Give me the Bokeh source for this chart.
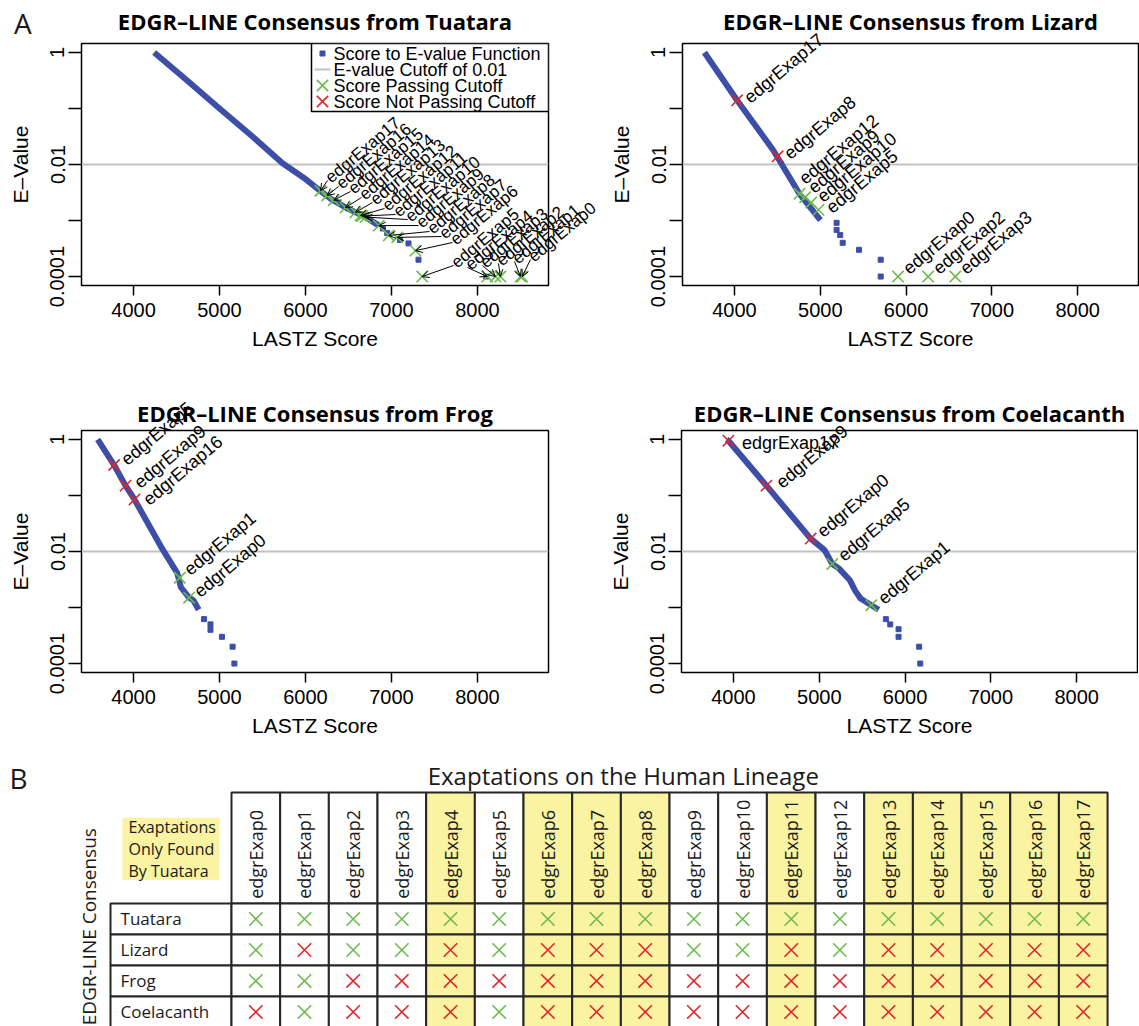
import math
from bokeh.plotting import figure
from bokeh.models import (Range1d, FixedTicker, CustomJSTickFormatter, ColumnDataSource,
                          HTMLLabelSet, Arrow, OpenHead, Div)
from bokeh.layouts import column, row
from bokeh.embed import file_html
from bokeh.resources import INLINE
from bokeh.core.properties import value

# ======================= DATA =======================
exaps = [f"edgrExap{i}" for i in range(18)]
species = ["Tuatara", "Lizard", "Frog", "Coelacanth"]
x_ticks = [4000, 5000, 6000, 7000, 8000]
y_ticks = [1e-4, 1e-3, 1e-2, 1e-1, 1.0]
cutoff = 0.01
legend_labels = ["Score to E-value Function", "E-value Cutoff of 0.01",
                 "Score Passing Cutoff", "Score Not Passing Cutoff"]

# Tuatara
tua_curve_score = [4240, 4600, 5000, 5400, 5733, 6000, 6150, 6300, 6500, 6700, 6850]
tua_curve_e = [1.0, 0.34, 0.10, 0.030, 0.0105, 0.0055, 0.0036, 0.0024, 0.0016, 0.00115, 0.00082]
tua_tail_score = [6900, 6950, 7100, 7198, 7314, 8102]
tua_tail_e = [0.00072, 0.00060, 0.00045, 0.00039, 0.00020, 0.0001]
tua_hit_id = [17, 16, 15, 14, 13, 12, 11, 10, 9, 8, 7, 6, 5, 4, 3, 2, 1, 0]
tua_hit_score = [6174, 6252, 6329, 6465, 6581, 6640, 6660, 6698, 6852, 6968, 7066, 7279,
                 7357, 8113, 8209, 8267, 8500, 8520]
tua_hit_e = [0.0034, 0.0028, 0.0023, 0.0017, 0.0014, 0.00123, 0.0012, 0.00115, 0.00081,
             0.00054, 0.0005, 0.00029, 0.0001, 0.0001, 0.0001, 0.0001, 0.0001, 0.0001]

# Lizard
liz_curve_score = [3650, 4030, 4452, 4757, 5002]
liz_curve_e = [1.0, 0.14, 0.018, 0.0030, 0.00102]
liz_tail_score = [5190, 5190, 5232, 5261, 5451, 5704, 5704]
liz_tail_e = [0.00091, 0.00068, 0.00055, 0.00040, 0.00030, 0.00020, 0.0001]
liz_hit_id = [17, 8, 12, 9, 10, 5, 0, 2, 3]
liz_hit_score = [4030, 4503, 4757, 4823, 4894, 4979, 5907, 6257, 6574]
liz_hit_e = [0.14, 0.014, 0.0030, 0.0026, 0.0021, 0.00155, 0.0001, 0.0001, 0.0001]

# Frog
frog_curve_score = [3583, 3774, 3907, 4011, 4322, 4509, 4551, 4646, 4696, 4758]
frog_curve_e = [1.0, 0.35, 0.15, 0.085, 0.012, 0.0041, 0.0023, 0.0015, 0.00135, 0.00091]
frog_tail_score = [4820, 4895, 4895, 5028, 5152, 5173]
frog_tail_e = [0.00062, 0.00050, 0.00040, 0.00030, 0.00020, 0.0001]
frog_hit_id = [5, 9, 16, 1, 0]
frog_hit_score = [3774, 3907, 4011, 4538, 4646]
frog_hit_e = [0.35, 0.15, 0.085, 0.0034, 0.0015]

# Coelacanth
coel_curve_score = [3920, 3941, 4384, 4899, 5059, 5152, 5228, 5354, 5418, 5481, 5607, 5692]
coel_curve_e = [1.0, 0.95, 0.15, 0.017, 0.0107, 0.0060, 0.0050, 0.0031, 0.0020, 0.00145,
                0.0011, 0.00091]
coel_tail_score = [5776, 5827, 5924, 5924, 6164, 6177]
coel_tail_e = [0.00062, 0.00050, 0.00041, 0.00030, 0.00020, 0.0001]
coel_hit_id = [17, 9, 0, 5, 1]
coel_hit_score = [3941, 4384, 4899, 5152, 5607]
coel_hit_e = [0.95, 0.15, 0.017, 0.0060, 0.0011]

# Table B: 1 = score passing cutoff, 0 = not passing
tuatara_pass = [1] * 18
lizard_pass = [1, 0, 1, 1, 0, 1, 0, 0, 0, 1, 1, 0, 1, 0, 0, 0, 0, 0]
frog_pass = [1, 1, 0, 0, 0, 0, 0, 0, 0, 0, 0, 0, 0, 0, 0, 0, 0, 0]
coel_pass = [0, 1, 0, 0, 0, 1, 0, 0, 0, 0, 0, 0, 0, 0, 0, 0, 0, 0]

# ======================= STYLE / LAYOUT =======================
BLUE = "#3d4ea8"
GREEN = "#6bbb4b"
RED = "#e0262b"
GRAY = "#c2c2c2"
YELLOW = "#f9f3a2"
LINE = "#262626"
TXT = "#1a1a1a"
RFONT = "Liberation Sans"
SFONT = "Open Sans"
FRAME_H = 242
LOG_LO, LOG_HI = -4.16, 0.16
Y_RANGE = (10 ** LOG_LO, 10 ** LOG_HI)
LEFT_X = (3395, 8826)
RIGHT_X = (3394, 8709)
LEFT_W, RIGHT_W = 467, 456
ANG = math.radians(40)

# Tuatara label anchors (page pixels of the top-left panel, frame at x=81, y=43)
tua_lab_px = [327, 338, 350, 361, 372, 384, 395, 407, 418, 429, 441, 452,
              453, 467, 482, 498, 514, 530]
tua_lab_py = [180, 186, 191, 197, 202, 208, 214, 219, 225, 231, 236, 242,
              265, 267, 265, 263, 261, 259]
# label offsets in pixels (right, up) for the other panels
liz_lab_dx = [10, 10, 3, 6, 9, 11, 8, 8, 8]
liz_lab_dy = [0, 0, 12, 7, 3, -1, 5, 5, 5]
frog_lab_dx = [10, 12, 12, 8, 8]
frog_lab_dy = [3, 0, -3, 5, 3]
coel_lab_dx = [14, 13, 10, 9, 10]
coel_lab_dy = [-3, 0, 4, 5, 4]


def px_x(px, xr, fw):
    """frame-relative pixel -> data x"""
    return xr[0] + px / fw * (xr[1] - xr[0])


def px_y(py):
    """pixels below frame top -> data y (log axis)"""
    return 10 ** (LOG_HI - py / FRAME_H * (LOG_HI - LOG_LO))


def base_panel(title, xr, frame_w, bl, br, bt, bb, title_standoff, valign):
    p = figure(frame_width=frame_w, frame_height=FRAME_H,
               x_range=Range1d(*xr), y_range=Range1d(*Y_RANGE), y_axis_type="log",
               min_border_left=bl, min_border_right=br, min_border_top=bt,
               min_border_bottom=bb, output_backend="svg", toolbar_location=None,
               background_fill_color="white", border_fill_color="white")
    p.title.text = title
    p.title.align = "center"
    p.title.vertical_align = valign
    p.title.text_font = SFONT
    p.title.text_font_style = "bold"
    p.title.text_font_size = "22px"
    p.title.text_color = "black"
    p.title.standoff = title_standoff
    p.grid.visible = False
    p.outline_line_color = "black"
    p.outline_line_width = 1.5
    p.outline_line_alpha = 1
    for ax in (p.xaxis[0], p.yaxis[0]):
        ax.axis_line_color = None
        ax.major_tick_in = 0
        ax.minor_tick_line_color = None
        ax.major_tick_line_color = "black"
        ax.major_tick_line_width = 1.5
        ax.major_label_text_font = RFONT
        ax.major_label_text_font_size = "20px"
        ax.major_label_text_color = "black"
        ax.axis_label_text_font = RFONT
        ax.axis_label_text_font_size = "21px"
        ax.axis_label_text_font_style = "normal"
        ax.axis_label_text_color = "black"
    p.xaxis.ticker = FixedTicker(ticks=x_ticks)
    p.xaxis.major_tick_out = 10
    p.xaxis.major_label_standoff = 7
    p.xaxis.axis_label = "LASTZ Score"
    p.xaxis.axis_label_standoff = 7
    p.yaxis.ticker = FixedTicker(ticks=y_ticks)
    p.yaxis.major_tick_out = 13
    p.yaxis.major_label_standoff = 4
    p.yaxis.major_label_orientation = "vertical"
    p.yaxis.formatter = CustomJSTickFormatter(code="""
        const e = Math.round(Math.log10(tick));
        if (e === 0) return "1";
        if (e === -2) return "0.01";
        if (e === -4) return "0.0001";
        return "";
    """)
    p.yaxis.axis_label = "E\u2013Value"
    p.yaxis.axis_label_standoff = 16
    cut = p.line(x=[xr[0], xr[1]], y=[cutoff, cutoff], line_color=GRAY, line_width=2)
    return p, cut


def add_series(p, curve_s, curve_e, tail_s, tail_e, hit_id, hit_s, hit_e, pass_row):
    p.line(curve_s, curve_e, line_color=BLUE, line_width=6, line_join="round")
    p.scatter(tail_s, tail_e, marker="square", size=5, color=BLUE)
    g = dict(x=[], y=[])
    r = dict(x=[], y=[])
    for i, s, e in zip(hit_id, hit_s, hit_e):
        d = g if pass_row[i] else r
        d["x"].append(s)
        d["y"].append(e)
    p.scatter("x", "y", source=ColumnDataSource(g), marker="x", size=16,
              line_color=GREEN, line_width=1.6)
    p.scatter("x", "y", source=ColumnDataSource(r), marker="x", size=16,
              line_color=RED, line_width=1.6)


def add_labels(p, hit_id, hit_s, hit_e, dx, dy, angles=None, size="18px"):
    ang = angles if angles is not None else [ANG] * len(hit_id)
    src = ColumnDataSource(dict(x=hit_s, y=hit_e, text=[exaps[i] for i in hit_id], a=ang,
                                dx=dx, dy=dy))
    p.add_layout(HTMLLabelSet(x="x", y="y", text="text", angle="a", source=src,
                              x_offset="dx", y_offset="dy",
                              text_font=value(RFONT), text_font_size=value(size),
                              text_baseline="middle", text_align="left",
                              text_color="black"))


# ---------- Tuatara ----------
p1, cut1 = base_panel("EDGR\u2013LINE Consensus from Tuatara", LEFT_X, LEFT_W,
                      81, 52, 43, 95, 11, "top")
add_series(p1, tua_curve_score, tua_curve_e, tua_tail_score, tua_tail_e,
           tua_hit_id, tua_hit_score, tua_hit_e, tuatara_pass)
lab_x = [px_x(v - 81, LEFT_X, LEFT_W) for v in tua_lab_px]
lab_y = [px_y(v - 43) for v in tua_lab_py]
asrc = ColumnDataSource(dict(xs=lab_x, ys=lab_y, xe=tua_hit_score, ye=tua_hit_e))
p1.add_layout(Arrow(end=OpenHead(size=7, line_width=1, line_color="black"),
                    x_start="xs", y_start="ys", x_end="xe", y_end="ye", source=asrc,
                    line_color="black", line_width=1))
add_labels(p1, tua_hit_id, lab_x, lab_y, [1] * 18, [0] * 18, size="17px")

# legend (top-right corner of the frame), built in frame-relative pixels
LG_W, LG_ROW, LG_PAD = 237, 16, 2
lx0 = px_x(LEFT_W - LG_W, LEFT_X, LEFT_W)
p1.quad(left=[lx0], right=[LEFT_X[1]], top=[px_y(0)], bottom=[px_y(4 * LG_ROW + 2 * LG_PAD)],
        fill_color="white", line_color="black", line_width=1.5)
row_y = [px_y(LG_PAD + LG_ROW * (k + 0.5)) for k in range(4)]
gx = px_x(LEFT_W - LG_W + 11, LEFT_X, LEFT_W)
p1.scatter([gx], [row_y[0]], marker="square", size=5, color=BLUE)
p1.line([px_x(LEFT_W - LG_W + 3, LEFT_X, LEFT_W), px_x(LEFT_W - LG_W + 19, LEFT_X, LEFT_W)],
        [row_y[1], row_y[1]], line_color=GRAY, line_width=2)
p1.scatter([gx], [row_y[2]], marker="x", size=16, line_color=GREEN, line_width=1.6)
p1.scatter([gx], [row_y[3]], marker="x", size=16, line_color=RED, line_width=1.6)
p1.text(x=[px_x(LEFT_W - LG_W + 22, LEFT_X, LEFT_W)] * 4, y=row_y, text=legend_labels,
        text_font=value(RFONT), text_font_size=value("18px"), text_baseline="middle",
        text_align="left", text_color="black")

# ---------- Lizard ----------
p2, _ = base_panel("EDGR\u2013LINE Consensus from Lizard", RIGHT_X, RIGHT_W,
                   82, 1, 43, 95, 11, "top")
add_series(p2, liz_curve_score, liz_curve_e, liz_tail_score, liz_tail_e,
           liz_hit_id, liz_hit_score, liz_hit_e, lizard_pass)
add_labels(p2, liz_hit_id, liz_hit_score, liz_hit_e, liz_lab_dx, liz_lab_dy)

# ---------- Frog ----------
p3, _ = base_panel("EDGR\u2013LINE Consensus from Frog", LEFT_X, LEFT_W,
                   81, 22, 50, 73, 6, "bottom")
add_series(p3, frog_curve_score, frog_curve_e, frog_tail_score, frog_tail_e,
           frog_hit_id, frog_hit_score, frog_hit_e, frog_pass)
add_labels(p3, frog_hit_id, frog_hit_score, frog_hit_e, frog_lab_dx, frog_lab_dy)

# ---------- Coelacanth ----------
p4, _ = base_panel("EDGR\u2013LINE Consensus from Coelacanth", RIGHT_X, RIGHT_W,
                   111, 1, 50, 73, 6, "bottom")
add_series(p4, coel_curve_score, coel_curve_e, coel_tail_score, coel_tail_e,
           coel_hit_id, coel_hit_score, coel_hit_e, coel_pass)
add_labels(p4, coel_hit_id, coel_hit_score, coel_hit_e, coel_lab_dx, coel_lab_dy,
           angles=[0.0] + [ANG] * (len(coel_hit_id) - 1))

# ---------- Table B ----------
pass_rows = [tuatara_pass, lizard_pass, frog_pass, coel_pass]
only_tuatara = [1 if (tuatara_pass[j] and not any(r[j] for r in pass_rows[1:])) else 0
                for j in range(len(exaps))]
HEAD_TOP = -3.58
LAB_LEFT = -2.486
pt = figure(width=1139, height=281, x_range=Range1d(-4.746, 18.656),
            y_range=Range1d(3.97, -5.10), min_border=0, output_backend="svg",
            toolbar_location=None, x_axis_location=None, y_axis_location=None)
pt.grid.visible = False
pt.outline_line_color = None
n = len(exaps)
cols = list(range(n))
fills = [YELLOW if only_tuatara[j] else "white" for j in cols]
pt.quad(left=cols, right=[j + 1 for j in cols], top=[HEAD_TOP] * n, bottom=[0] * n,
        fill_color=fills, line_color=LINE, line_width=2)
bl, br, bt, bb, bf = [], [], [], [], []
for i in range(len(species)):
    bl.append(LAB_LEFT); br.append(0); bt.append(i); bb.append(i + 1); bf.append("white")
    for j in cols:
        bl.append(j); br.append(j + 1); bt.append(i); bb.append(i + 1); bf.append(fills[j])
pt.quad(left=bl, right=br, top=bt, bottom=bb, fill_color=bf, line_color=LINE, line_width=2)
mx, my, mc = [], [], []
for i, prow in enumerate(pass_rows):
    for j in cols:
        mx.append(j + 0.5); my.append(i + 0.5); mc.append(GREEN if prow[j] else RED)
pt.scatter(mx, my, marker="x", size=19, line_color=mc, line_width=1.6)
pt.text(x=[j + 0.5 for j in cols], y=[-0.15] * n, text=exaps, angle=math.pi / 2,
        text_align="left", text_baseline="middle", text_font=value(SFONT),
        text_font_size=value("18px"), text_color=TXT)
pt.text(x=[-2.28] * 4, y=[i + 0.5 for i in range(4)], text=species, text_align="left",
        text_baseline="middle", text_font=value(SFONT), text_font_size=value("17px"),
        text_color=TXT)
pt.quad(left=[-2.24], right=[-0.247], top=[-2.77], bottom=[-0.77], fill_color=YELLOW,
        line_color=None)
pt.text(x=[-2.116] * 3, y=[-2.48, -1.77, -1.06], text=["Exaptations", "Only Found", "By Tuatara"],
        text_align="left", text_baseline="middle", text_font=value(SFONT),
        text_font_size=value("16px"), text_color=TXT)
pt.text(x=[-2.918], y=[0.75], text=["EDGR-LINE Consensus"], angle=math.pi / 2,
        text_align="center", text_baseline="middle", text_font=value(SFONT),
        text_font_size=value("19px"), text_color=TXT)
pt.text(x=[8.05], y=[-4.13], text=["Exaptations on the Human Lineage"], text_align="center",
        text_baseline="middle", text_font=value(SFONT), text_font_size=value("24px"),
        text_color=TXT)
pt.text(x=[-4.376], y=[-4.065], text=["B"], text_align="center", text_baseline="middle",
        text_font=value(SFONT), text_font_size=value("28px"), text_color=TXT)

# panel letter "A" (top-left corner of the page)
css = (":host { position: absolute !important; left: 9px !important; top: 0px !important;"
       " z-index: 5; }")
divA = Div(text='<span style="font-family:\'Open Sans\';font-size:28px;line-height:36px;'
                'color:#1a1a1a">A</span>',
           width=24, height=36, stylesheets=[css])

layout = column(row(p1, p2), row(p3, p4), pt, divA)
open("out.html", "w").write(file_html(layout, INLINE))
